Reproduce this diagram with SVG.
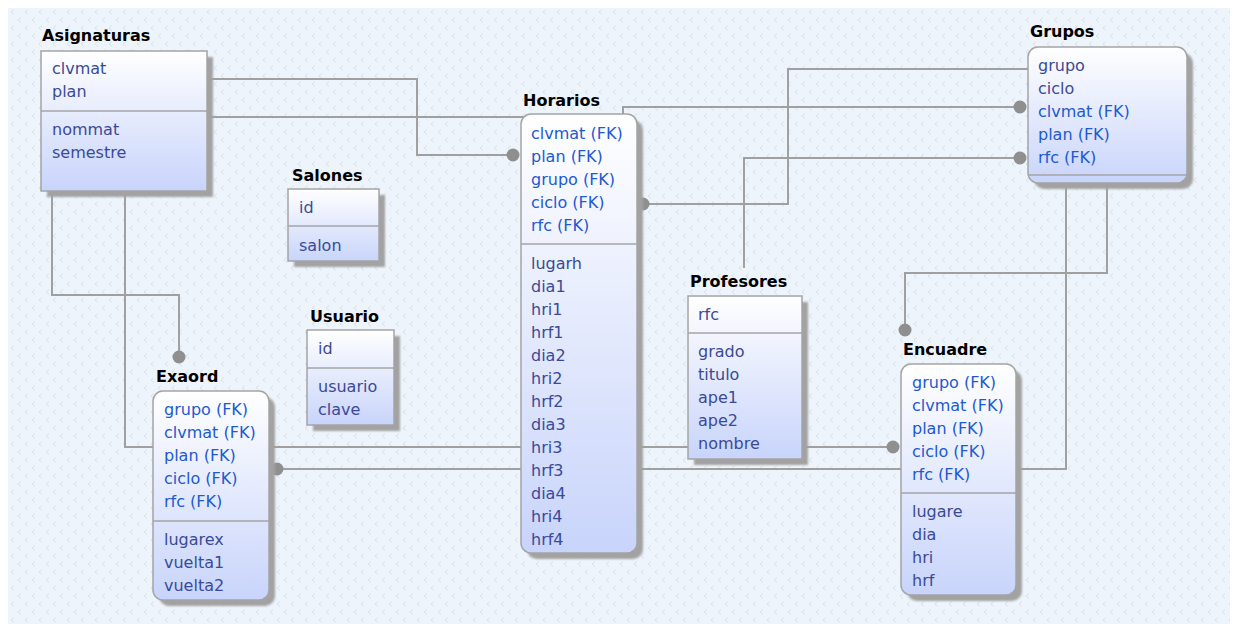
<svg xmlns="http://www.w3.org/2000/svg" width="1237" height="630" viewBox="0 0 1237 630">
<defs>
  <pattern id="bgp" x="8" y="8" width="14" height="16" patternUnits="userSpaceOnUse">
    <rect width="14" height="16" fill="#eef4fb"/>
    <path d="M6,1.5 L3,4 L6,6.5" fill="none" stroke="#d6dee9" stroke-width="0.9"/>
    <path d="M13,9.5 L10,12 L13,14.5" fill="none" stroke="#d6dee9" stroke-width="0.9"/>
  </pattern>
  <linearGradient id="boxg" x1="0" y1="0" x2="0" y2="1">
    <stop offset="0" stop-color="#ffffff"/>
    <stop offset="1" stop-color="#c8d4fb"/>
  </linearGradient>
  <filter id="sh" x="-10%" y="-10%" width="130%" height="130%">
    <feGaussianBlur stdDeviation="1.2"/>
  </filter>
  <style>
    .bg{fill:url(#bgp)}
    .shadow{fill:#a2a2a2;filter:url(#sh)}
    .box{fill:url(#boxg);stroke:#a4a4a4;stroke-width:1.5}
    .div{stroke:#a4a4a4;stroke-width:1.5}
    .title{font-family:"DejaVu Sans",sans-serif;font-size:16px;font-weight:bold;fill:#000}
    .at{font-family:"DejaVu Sans",sans-serif;font-size:16px;fill:#3a4a98}
    .fk{font-family:"DejaVu Sans",sans-serif;font-size:16px;fill:#2159d2}
    .ln{fill:none;stroke:#a0a0a0;stroke-width:2}
    .dot{fill:#8f8f8f}
  </style>
</defs>
<rect x="0" y="0" width="1237" height="630" fill="#ffffff"/>
<rect class="bg" x="8" y="8" width="1222" height="616"/>

<g id="connectors">
  <path class="ln" d="M207,79 H417 V155 H513"/>
  <circle class="dot" cx="513" cy="155" r="6.5"/>
  <path class="ln" d="M207,117 H623 V107 H1020"/>
  <circle class="dot" cx="1020" cy="107" r="6.5"/>
  <path class="ln" d="M1028,69 H788 V204 H643"/>
  <circle class="dot" cx="643" cy="204" r="6.5"/>
  <path class="ln" d="M744,268 V158 H1020"/>
  <circle class="dot" cx="1020" cy="158" r="6.5"/>
  <path class="ln" d="M52,191 V295 H179 V357"/>
  <circle class="dot" cx="179" cy="357" r="6.5"/>
  <path class="ln" d="M125,191 V447 H893"/>
  <circle class="dot" cx="893" cy="447" r="6.5"/>
  <path class="ln" d="M1107,183 V273 H905 V330"/>
  <circle class="dot" cx="905" cy="330" r="6.5"/>
  <path class="ln" d="M1066,183 V469 H277"/>
  <circle class="dot" cx="277" cy="469" r="6.5"/>
</g>

<g id="Asignaturas">
  <rect class="shadow" x="47" y="57" width="166" height="140"/>
  <rect class="box" x="41" y="51" width="166" height="140"/>
  <line class="div" x1="41" y1="111" x2="207" y2="111"/>
  <text class="title" x="42" y="41">Asignaturas</text>
  <text class="at" x="52" y="74">clvmat</text>
  <text class="at" x="52" y="97">plan</text>
  <text class="at" x="52" y="135">nommat</text>
  <text class="at" x="52" y="158">semestre</text>
</g>

<g id="Salones">
  <rect class="shadow" x="294" y="195" width="91" height="72"/>
  <rect class="box" x="288" y="189" width="91" height="72"/>
  <line class="div" x1="288" y1="226" x2="379" y2="226"/>
  <text class="title" x="292" y="181">Salones</text>
  <text class="at" x="299" y="213">id</text>
  <text class="at" x="299" y="251">salon</text>
</g>

<g id="Usuario">
  <rect class="shadow" x="313" y="336" width="87" height="95"/>
  <rect class="box" x="307" y="330" width="87" height="95"/>
  <line class="div" x1="307" y1="368" x2="394" y2="368"/>
  <text class="title" x="310" y="322">Usuario</text>
  <text class="at" x="318" y="354">id</text>
  <text class="at" x="318" y="392">usuario</text>
  <text class="at" x="318" y="415">clave</text>
</g>

<g id="Horarios">
  <rect class="shadow" x="527" y="120" width="116" height="439" rx="10"/>
  <rect class="box" x="521" y="114" width="116" height="439" rx="10"/>
  <line class="div" x1="521" y1="244" x2="637" y2="244"/>
  <text class="title" x="523" y="106">Horarios</text>
  <text class="fk" x="531" y="139">clvmat (FK)</text>
  <text class="fk" x="531" y="162">plan (FK)</text>
  <text class="fk" x="531" y="185">grupo (FK)</text>
  <text class="fk" x="531" y="208">ciclo (FK)</text>
  <text class="fk" x="531" y="231">rfc (FK)</text>
  <text class="at" x="531" y="269">lugarh</text>
  <text class="at" x="531" y="292">dia1</text>
  <text class="at" x="531" y="315">hri1</text>
  <text class="at" x="531" y="338">hrf1</text>
  <text class="at" x="531" y="361">dia2</text>
  <text class="at" x="531" y="384">hri2</text>
  <text class="at" x="531" y="407">hrf2</text>
  <text class="at" x="531" y="430">dia3</text>
  <text class="at" x="531" y="453">hri3</text>
  <text class="at" x="531" y="476">hrf3</text>
  <text class="at" x="531" y="499">dia4</text>
  <text class="at" x="531" y="522">hri4</text>
  <text class="at" x="531" y="545">hrf4</text>
</g>

<g id="Profesores">
  <rect class="shadow" x="694" y="302" width="114" height="163"/>
  <rect class="box" x="688" y="296" width="114" height="163"/>
  <line class="div" x1="688" y1="333" x2="802" y2="333"/>
  <text class="title" x="690" y="287">Profesores</text>
  <text class="at" x="698" y="320">rfc</text>
  <text class="at" x="698" y="357">grado</text>
  <text class="at" x="698" y="380">titulo</text>
  <text class="at" x="698" y="403">ape1</text>
  <text class="at" x="698" y="426">ape2</text>
  <text class="at" x="698" y="449">nombre</text>
</g>

<g id="Grupos">
  <rect class="shadow" x="1034" y="53" width="159" height="136" rx="10"/>
  <rect class="box" x="1028" y="47" width="159" height="136" rx="10"/>
  <line class="div" x1="1028" y1="175" x2="1187" y2="175"/>
  <text class="title" x="1030" y="37">Grupos</text>
  <text class="at" x="1038" y="71">grupo</text>
  <text class="at" x="1038" y="94">ciclo</text>
  <text class="fk" x="1038" y="117">clvmat (FK)</text>
  <text class="fk" x="1038" y="140">plan (FK)</text>
  <text class="fk" x="1038" y="163">rfc (FK)</text>
</g>

<g id="Encuadre">
  <rect class="shadow" x="907" y="370" width="115" height="231" rx="10"/>
  <rect class="box" x="901" y="364" width="115" height="231" rx="10"/>
  <line class="div" x1="901" y1="493" x2="1016" y2="493"/>
  <text class="title" x="903" y="355">Encuadre</text>
  <text class="fk" x="912" y="388">grupo (FK)</text>
  <text class="fk" x="912" y="411">clvmat (FK)</text>
  <text class="fk" x="912" y="434">plan (FK)</text>
  <text class="fk" x="912" y="457">ciclo (FK)</text>
  <text class="fk" x="912" y="480">rfc (FK)</text>
  <text class="at" x="912" y="517">lugare</text>
  <text class="at" x="912" y="540">dia</text>
  <text class="at" x="912" y="563">hri</text>
  <text class="at" x="912" y="586">hrf</text>
</g>

<g id="Exaord">
  <rect class="shadow" x="159" y="397" width="116" height="209" rx="10"/>
  <rect class="box" x="153" y="391" width="116" height="209" rx="10"/>
  <line class="div" x1="153" y1="521" x2="269" y2="521"/>
  <text class="title" x="156" y="382">Exaord</text>
  <text class="fk" x="164" y="415">grupo (FK)</text>
  <text class="fk" x="164" y="438">clvmat (FK)</text>
  <text class="fk" x="164" y="461">plan (FK)</text>
  <text class="fk" x="164" y="484">ciclo (FK)</text>
  <text class="fk" x="164" y="507">rfc (FK)</text>
  <text class="at" x="164" y="545">lugarex</text>
  <text class="at" x="164" y="568">vuelta1</text>
  <text class="at" x="164" y="591">vuelta2</text>
</g>
</svg>
